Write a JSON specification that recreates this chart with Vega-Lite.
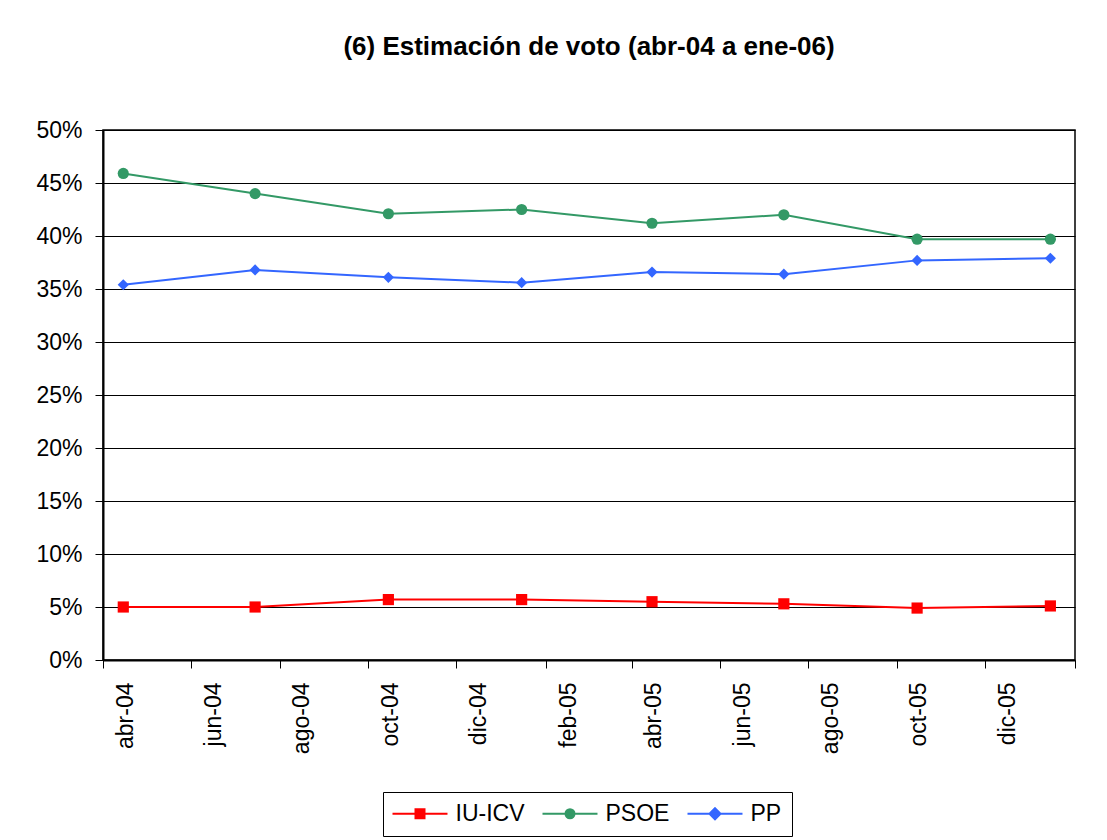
{
  "$schema": "https://vega.github.io/schema/vega-lite/v6.json",
  "width": 972,
  "height": 530,
  "autosize": "none",
  "padding": {"left": 103, "top": 130, "right": 32, "bottom": 180},
  "background": "white",
  "title": {
    "text": "(6) Estimación de voto (abr-04 a ene-06)",
    "font": "Liberation Sans",
    "fontSize": 26,
    "fontWeight": "bold",
    "color": "black",
    "offset": 59,
    "anchor": "middle"
  },
  "config": {
    "view": {"stroke": "black", "strokeWidth": 1.5},
    "font": "Liberation Sans"
  },
  "data": {
    "values": [
      {"partido": "IU-ICV", "fecha": "2004-04-15", "voto": 0.050},
      {"partido": "IU-ICV", "fecha": "2004-07-15", "voto": 0.050},
      {"partido": "IU-ICV", "fecha": "2004-10-15", "voto": 0.057},
      {"partido": "IU-ICV", "fecha": "2005-01-15", "voto": 0.057},
      {"partido": "IU-ICV", "fecha": "2005-04-15", "voto": 0.055},
      {"partido": "IU-ICV", "fecha": "2005-07-15", "voto": 0.053},
      {"partido": "IU-ICV", "fecha": "2005-10-15", "voto": 0.049},
      {"partido": "IU-ICV", "fecha": "2006-01-15", "voto": 0.051},
      {"partido": "PSOE", "fecha": "2004-04-15", "voto": 0.459},
      {"partido": "PSOE", "fecha": "2004-07-15", "voto": 0.440},
      {"partido": "PSOE", "fecha": "2004-10-15", "voto": 0.421},
      {"partido": "PSOE", "fecha": "2005-01-15", "voto": 0.425},
      {"partido": "PSOE", "fecha": "2005-04-15", "voto": 0.412},
      {"partido": "PSOE", "fecha": "2005-07-15", "voto": 0.420},
      {"partido": "PSOE", "fecha": "2005-10-15", "voto": 0.397},
      {"partido": "PSOE", "fecha": "2006-01-15", "voto": 0.397},
      {"partido": "PP", "fecha": "2004-04-15", "voto": 0.354},
      {"partido": "PP", "fecha": "2004-07-15", "voto": 0.368},
      {"partido": "PP", "fecha": "2004-10-15", "voto": 0.361},
      {"partido": "PP", "fecha": "2005-01-15", "voto": 0.356},
      {"partido": "PP", "fecha": "2005-04-15", "voto": 0.366},
      {"partido": "PP", "fecha": "2005-07-15", "voto": 0.364},
      {"partido": "PP", "fecha": "2005-10-15", "voto": 0.377},
      {"partido": "PP", "fecha": "2006-01-15", "voto": 0.379}
    ]
  },
  "encoding": {
    "x": {
      "field": "fecha",
      "type": "temporal",
      "scale": {
        "type": "utc",
        "domain": [
          {"year": 2004, "month": 4, "date": 1, "utc": true},
          {"year": 2006, "month": 2, "date": 1, "utc": true}
        ]
      },
      "axis": {
        "title": null,
        "values": [
          {"year": 2004, "month": 4, "date": 1, "utc": true},
          {"year": 2004, "month": 6, "date": 1, "utc": true},
          {"year": 2004, "month": 8, "date": 1, "utc": true},
          {"year": 2004, "month": 10, "date": 1, "utc": true},
          {"year": 2004, "month": 12, "date": 1, "utc": true},
          {"year": 2005, "month": 2, "date": 1, "utc": true},
          {"year": 2005, "month": 4, "date": 1, "utc": true},
          {"year": 2005, "month": 6, "date": 1, "utc": true},
          {"year": 2005, "month": 8, "date": 1, "utc": true},
          {"year": 2005, "month": 10, "date": 1, "utc": true},
          {"year": 2005, "month": 12, "date": 1, "utc": true},
          {"year": 2006, "month": 2, "date": 1, "utc": true}
        ],
        "labelExpr": "utcyear(datum.value) == 2006 ? '' : ['ene','feb','mar','abr','may','jun','jul','ago','sep','oct','nov','dic'][utcmonth(datum.value)] + '-' + utcFormat(datum.value, '%y')",
        "labelAngle": 270,
        "labelAlign": "right",
        "labelBaseline": "middle",
        "labelOffset": 22,
        "labelPadding": 14,
        "labelFontSize": 23,
        "labelColor": "black",
        "labelOverlap": false,
        "labelFlush": false,
        "labelBound": false,
        "grid": false,
        "domainColor": "black",
        "domainWidth": 2,
        "tickColor": "black",
        "tickSize": 8,
        "tickWidth": 1
      }
    },
    "y": {
      "field": "voto",
      "type": "quantitative",
      "scale": {"domain": [0, 0.5], "nice": false},
      "axis": {
        "title": null,
        "values": [0, 0.05, 0.1, 0.15, 0.2, 0.25, 0.3, 0.35, 0.4, 0.45, 0.5],
        "format": ".0%",
        "labelFontSize": 23,
        "labelColor": "black",
        "labelPadding": 13,
        "labelFlush": false,
        "labelOverlap": false,
        "grid": true,
        "gridColor": "black",
        "gridWidth": 1,
        "domainColor": "black",
        "domainWidth": 2,
        "tickColor": "black",
        "tickSize": 8,
        "tickWidth": 1
      }
    },
    "color": {
      "field": "partido",
      "type": "nominal",
      "scale": {
        "domain": ["IU-ICV", "PSOE", "PP"],
        "range": ["#FF0000", "#339966", "#3366FF"]
      },
      "legend": {
        "title": null,
        "orient": "none",
        "legendX": 280,
        "legendY": 662,
        "direction": "horizontal",
        "strokeColor": "black",
        "padding": 10,
        "labelFontSize": 23,
        "labelColor": "black",
        "symbolSize": 144,
        "symbolStrokeWidth": 2,
        "symbolOffset": 15.5,
        "labelOffset": 24,
        "columnPadding": 13,
        "encode": {
          "symbols": {
            "update": {
              "shape": {"signal": "datum.value == 'IU-ICV' ? 'M-4.583,0H4.583M-0.75,-0.75H0.75V0.75H-0.75Z' : datum.value == 'PSOE' ? 'M-4.583,0H4.583M0.75,0A0.75,0.75,0,1,1,-0.75,0A0.75,0.75,0,1,1,0.75,0Z' : 'M-4.583,0H4.583M0,-0.92L0.92,0L0,0.92L-0.92,0Z'"},
              "fill": {"signal": "scale('color', datum.value)"},
              "stroke": {"signal": "scale('color', datum.value)"}
            }
          }
        }
      }
    }
  },
  "layer": [
    {"mark": {"type": "line", "strokeWidth": 2}},
    {
      "mark": {"type": "point", "filled": true, "opacity": 1, "size": 125},
      "encoding": {
        "shape": {
          "condition": [
            {"test": "datum.partido == 'IU-ICV'", "value": "square"},
            {"test": "datum.partido == 'PP'", "value": "diamond"}
          ],
          "value": "circle"
        }
      }
    }
  ]
}
